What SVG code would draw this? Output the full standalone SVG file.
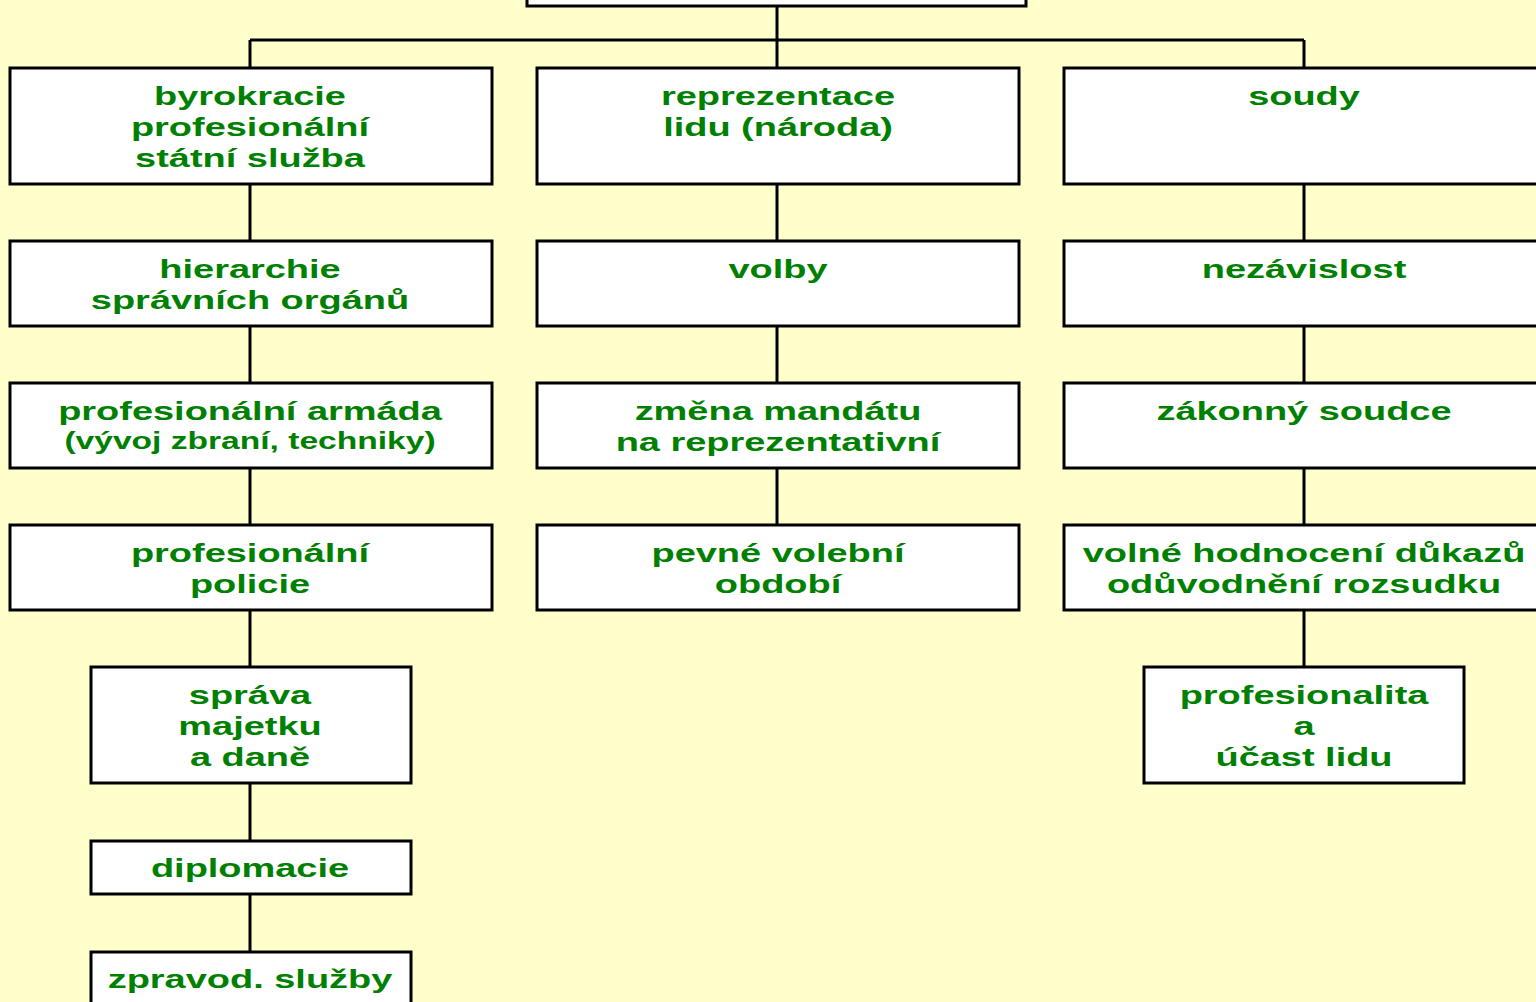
<svg xmlns="http://www.w3.org/2000/svg" width="1536" height="1002" viewBox="0 0 1536 1002">
<style>
.box{fill:#fff;stroke:#000;stroke-width:3}
.ln{stroke:#000;stroke-width:3;fill:none}
.t{font-family:"Liberation Sans",Arial,sans-serif;font-weight:bold;font-size:26px;fill:#008000;text-anchor:middle}
.s{font-size:23px}
</style>
<rect width="1536" height="1002" fill="#FFFFCC"/>
<g id="connectors">
<path class="ln" d="M777 6V40M250 40H1304M250 40V68M777 40V68M1304 40V68"/>
<path class="ln" d="M250 184V241M250 326V383M250 468V525M250 610V667M250 783V841M250 894V952"/>
<path class="ln" d="M777 184V241M777 326V383M777 468V525"/>
<path class="ln" d="M1304 184V241M1304 326V383M1304 468V525M1304 610V667"/>
</g>
<g id="root"><rect class="box" x="527" y="-50" width="499" height="56"/></g>
<g id="n-byrokracie"><rect class="box" x="10" y="68" width="482" height="116"/>
<g transform="translate(250,2) scale(1.46,1)"><text class="t" x="0" y="103">byrokracie</text><text class="t" x="0" y="134">profesionální</text><text class="t" x="0" y="165">státní služba</text></g></g>
<g id="n-hierarchie"><rect class="box" x="10" y="241" width="482" height="85"/>
<g transform="translate(250,2) scale(1.46,1)"><text class="t" x="0" y="276">hierarchie</text><text class="t" x="0" y="307">správních orgánů</text></g></g>
<g id="n-armada"><rect class="box" x="10" y="383" width="482" height="85"/>
<g transform="translate(250,2) scale(1.46,1)"><text class="t" x="0" y="418">profesionální armáda</text><text class="t s" x="0" y="447">(vývoj zbraní, techniky)</text></g></g>
<g id="n-policie"><rect class="box" x="10" y="525" width="482" height="85"/>
<g transform="translate(250,2) scale(1.46,1)"><text class="t" x="0" y="560">profesionální</text><text class="t" x="0" y="591">policie</text></g></g>
<g id="n-sprava"><rect class="box" x="91" y="667" width="320" height="116"/>
<g transform="translate(250,2) scale(1.46,1)"><text class="t" x="0" y="702">správa</text><text class="t" x="0" y="733">majetku</text><text class="t" x="0" y="764">a daně</text></g></g>
<g id="n-diplomacie"><rect class="box" x="91" y="841" width="320" height="53"/>
<g transform="translate(250,2) scale(1.46,1)"><text class="t" x="0" y="875">diplomacie</text></g></g>
<g id="n-zpravod"><rect class="box" x="91" y="952" width="320" height="70"/>
<g transform="translate(250,2) scale(1.46,1)"><text class="t" x="0" y="986">zpravod. služby</text></g></g>
<g id="n-reprezentace"><rect class="box" x="537" y="68" width="482" height="116"/>
<g transform="translate(778,2) scale(1.46,1)"><text class="t" x="0" y="103">reprezentace</text><text class="t" x="0" y="134">lidu (národa)</text></g></g>
<g id="n-volby"><rect class="box" x="537" y="241" width="482" height="85"/>
<g transform="translate(778,2) scale(1.46,1)"><text class="t" x="0" y="276">volby</text></g></g>
<g id="n-zmena"><rect class="box" x="537" y="383" width="482" height="85"/>
<g transform="translate(778,2) scale(1.46,1)"><text class="t" x="0" y="418">změna mandátu</text><text class="t" x="0" y="449">na reprezentativní</text></g></g>
<g id="n-obdobi"><rect class="box" x="537" y="525" width="482" height="85"/>
<g transform="translate(778,2) scale(1.46,1)"><text class="t" x="0" y="560">pevné volební</text><text class="t" x="0" y="591">období</text></g></g>
<g id="n-soudy"><rect class="box" x="1064" y="68" width="482" height="116"/>
<g transform="translate(1304,2) scale(1.46,1)"><text class="t" x="0" y="103">soudy</text></g></g>
<g id="n-nezavislost"><rect class="box" x="1064" y="241" width="482" height="85"/>
<g transform="translate(1304,2) scale(1.46,1)"><text class="t" x="0" y="276">nezávislost</text></g></g>
<g id="n-soudce"><rect class="box" x="1064" y="383" width="482" height="85"/>
<g transform="translate(1304,2) scale(1.46,1)"><text class="t" x="0" y="418">zákonný soudce</text></g></g>
<g id="n-dukazy"><rect class="box" x="1064" y="525" width="482" height="85"/>
<g transform="translate(1304,2) scale(1.46,1)"><text class="t" x="0" y="560">volné hodnocení důkazů</text><text class="t" x="0" y="591">odůvodnění rozsudku</text></g></g>
<g id="n-profesionalita"><rect class="box" x="1144" y="667" width="320" height="116"/>
<g transform="translate(1304,2) scale(1.46,1)"><text class="t" x="0" y="702">profesionalita</text><text class="t" x="0" y="733">a</text><text class="t" x="0" y="764">účast lidu</text></g></g>
</svg>
